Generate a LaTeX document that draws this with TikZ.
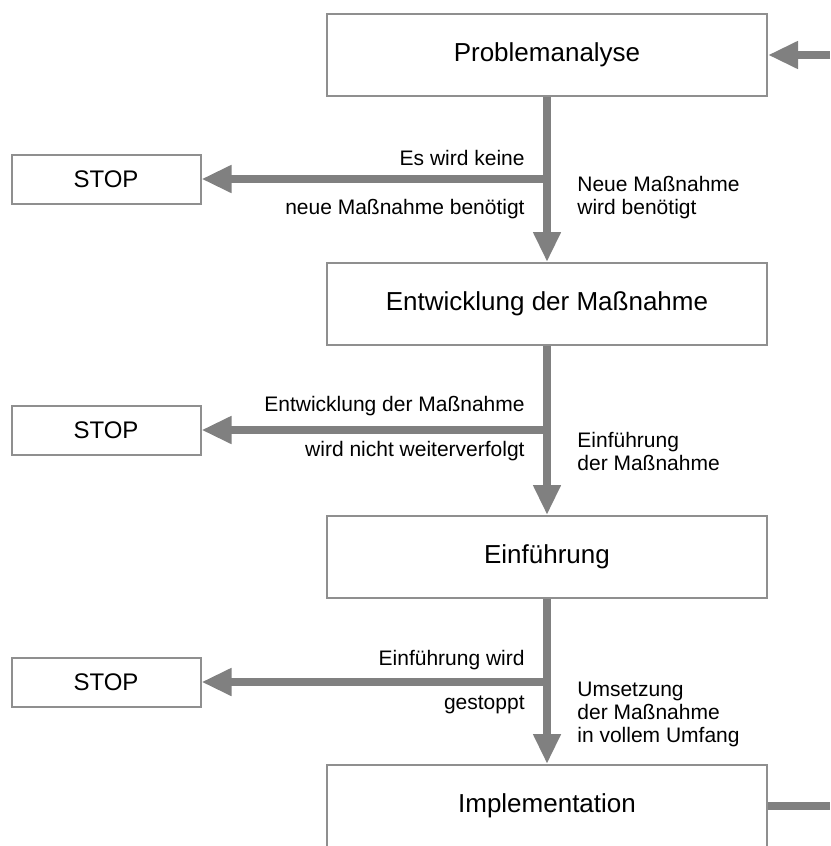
\documentclass[tikz,border=0pt]{standalone}
\usepackage{fontspec}
\setmainfont{Liberation Sans}
\usetikzlibrary{arrows.meta}
\definecolor{pfeil}{gray}{0.5}
\definecolor{rand}{gray}{0.56}

\begin{document}
\begin{tikzpicture}[x=.5pt,y=-.5pt,
  box/.style={draw=rand,line width=1pt,minimum width=220pt,minimum height=41pt,inner sep=0pt,font=\fontsize{13}{15}\selectfont},
  stopbox/.style={draw=rand,line width=1pt,minimum width=94.5pt,minimum height=24.5pt,inner sep=0pt,font=\fontsize{12}{14}\selectfont},
  flow/.style={draw=pfeil,line width=3.75pt,-{Triangle[length=15pt,width=13pt]}},
  lbl/.style={inner sep=0pt,font=\fontsize{10.5}{11.5}\selectfont}]
 \useasboundingbox (0,0) rectangle (830,846);
 % Hauptkette
 \node[box] (analyse) at (547,55) {Problemanalyse};
 \node[box] (entw) at (547,304) {Entwicklung der Maßnahme};
 \node[box] (einf) at (547,557) {Einführung};
 \node[box] (impl) at (547,806) {Implementation};
 \foreach \n/\y in {1/179,2/430,3/682}{\node[stopbox] (stop\n) at (106,\y) {STOP};}
 \coordinate (rein) at (830,55);
 \coordinate (raus) at (830,806);
 \draw[flow] (rein) -- (analyse.east);
 \draw[flow] (analyse) -- (entw);
 \draw[flow] (entw) -- (einf);
 \draw[flow] (einf) -- (impl);
 \draw[draw=pfeil,line width=3.75pt] (impl.east) -- (raus);
 % Abbruch
 \coordinate (ab1) at (analyse.south |- stop1.east);
 \coordinate (ab2) at (entw.south |- stop2.east);
 \coordinate (ab3) at (einf.south |- stop3.east);
 \foreach \n in {1,2,3}{\draw[flow] (ab\n) -- (stop\n);}
 % Beschriftung
 \node[lbl,anchor=east] (keine) at (525,158) {Es wird keine};
 \node[lbl,anchor=east] (keineb) at (525,209) {neue Maßnahme benötigt};
 \node[lbl,anchor=west,align=left] (neu) at (577,198) {Neue Maßnahme\\wird benötigt};
 \node[lbl,anchor=east] (nicht) at (525,406) {Entwicklung der Maßnahme};
 \node[lbl,anchor=east] (nichtb) at (525,451) {wird nicht weiterverfolgt};
 \node[lbl,anchor=west,align=left] (weiter) at (577,451) {Einführung\\der Maßnahme};
 \node[lbl,anchor=east] (gest) at (525,660) {Einführung wird};
 \node[lbl,anchor=east] (gestb) at (525,705) {gestoppt};
 \node[lbl,anchor=west,align=left] (umsetz) at (577,714) {Umsetzung\\der Maßnahme\\in vollem Umfang};
\end{tikzpicture}
\end{document}
